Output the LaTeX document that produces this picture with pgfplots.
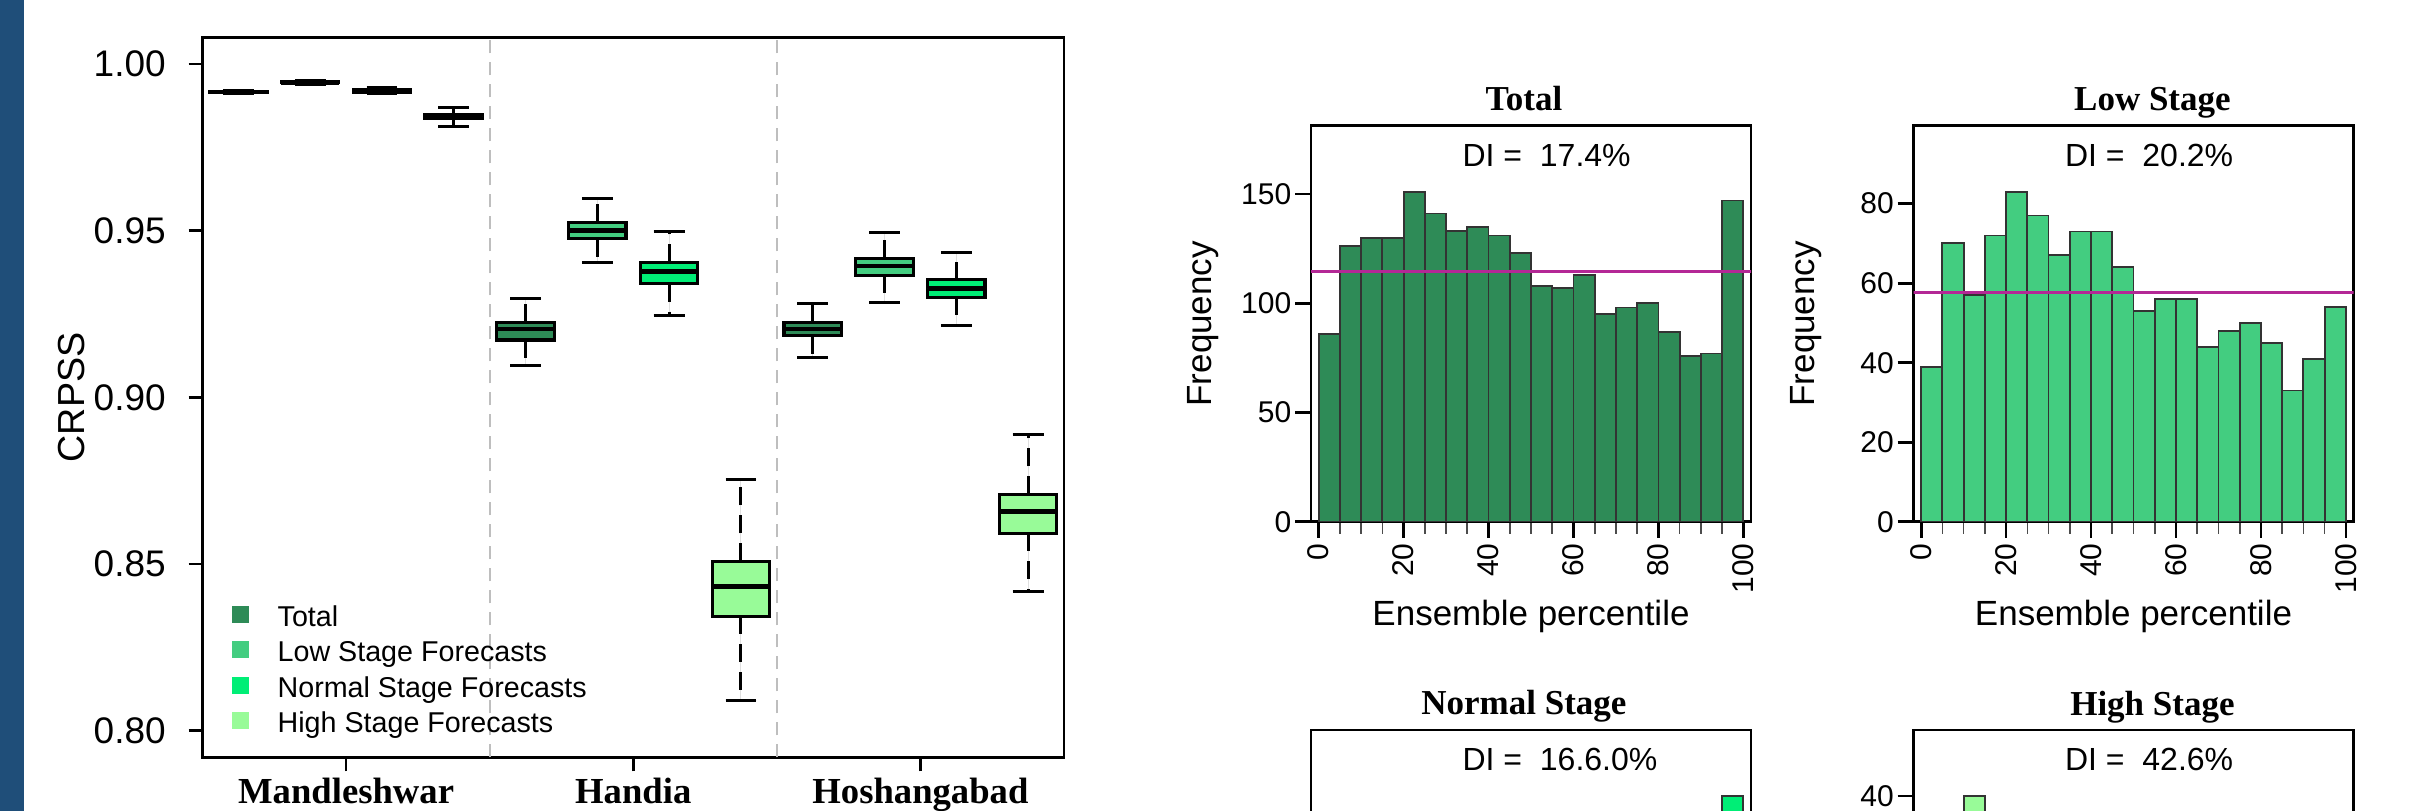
\documentclass[border=0pt]{standalone}
\usepackage{fontspec}
\setmainfont{Liberation Sans}
\newfontfamily\tnr{Liberation Serif}
\usepackage{pgfplots}
\pgfplotsset{compat=1.18}
\usepgfplotslibrary{statistics}

\definecolor{cTot}{HTML}{2E8B57}
\definecolor{cLow}{HTML}{43CD80}
\definecolor{cNor}{HTML}{00EE76}
\definecolor{cHig}{HTML}{98FB98}
\definecolor{cMean}{HTML}{B42896}
\definecolor{cSide}{HTML}{1F4E79}
\definecolor{cSep}{HTML}{BEBEBE}

% one R-style box: position, lower whisker, q1, median, q3, upper whisker, fill
\newcommand\rbox[7]{%
  \addplot[forget plot, rbox, fill=#7,
    boxplot prepared={draw position=#1, lower whisker=#2, lower quartile=#3,
      median=#4, upper quartile=#5, upper whisker=#6}] coordinates {};}

\newcommand\legsq[1]{%
  \addlegendimage{legend image code/.code={%
    \fill[#1, draw=none] (0pt,-1.05pt) rectangle (5.1pt,4.05pt);
    \path[draw=none, fill=none] (0pt,0pt) -- (13.8pt,0pt);}}}

\tikzset{dil/.style={anchor=base west, inner sep=0pt, font=\fontsize{9.6}{11}\selectfont}}

\pgfplotsset{
  rbox/.style={
    boxplot/draw direction=y,
    boxplot/box extend=0.8,
    boxplot/whisker extend=0.43,
    boxplot/every box/.style={line width=0.95pt, draw=black},
    boxplot/every median/.style={line width=1.4pt, draw=black},
    boxplot/draw/lower whisker/.code={%
      \draw[black, line width=0.9pt, dash pattern=on 5.4pt off 3pt]
        (boxplot whisker cs:\pgfplotsboxplotvalue{lower quartile},0.5) --
        (boxplot whisker cs:\pgfplotsboxplotvalue{lower whisker},0.5);
      \draw[black, line width=0.9pt]
        (boxplot whisker cs:\pgfplotsboxplotvalue{lower whisker},0) --
        (boxplot whisker cs:\pgfplotsboxplotvalue{lower whisker},1);},
    boxplot/draw/upper whisker/.code={%
      \draw[black, line width=0.9pt, dash pattern=on 5.4pt off 3pt]
        (boxplot whisker cs:\pgfplotsboxplotvalue{upper quartile},0.5) --
        (boxplot whisker cs:\pgfplotsboxplotvalue{upper whisker},0.5);
      \draw[black, line width=0.9pt]
        (boxplot whisker cs:\pgfplotsboxplotvalue{upper whisker},0) --
        (boxplot whisker cs:\pgfplotsboxplotvalue{upper whisker},1);},
  },
  hist/.style={
    scale only axis, width=132pt, height=118.83pt, anchor=south west,
    xmin=-1.8, xmax=101.8, ymin=0,
    axis line style={line width=0.8pt},
    tick pos=left, tick align=outside,
    major tick length=4.8pt, minor tick length=3.6pt,
    major tick style={line width=0.8pt, black},
    minor tick style={line width=0.5pt, black!70},
    xtick={0,20,...,100},
    minor xtick={5,10,15,25,30,35,45,50,55,65,70,75,85,90,95},
    xticklabel style={yshift=1.8pt, rotate=90, anchor=east, font=\fontsize{9}{10}\selectfont},
    yticklabel style={xshift=2.4pt, font=\fontsize{9}{10}\selectfont},
    /pgf/number format/assume math mode=true,
    xlabel={Ensemble percentile},
    ylabel={Frequency},
    xlabel style={font=\fontsize{10.5}{12}\selectfont,
      at={(axis description cs:0.5,-0.263)}, anchor=base},
    ylabel style={font=\fontsize{10.5}{12}\selectfont,
      at={(axis description cs:-0.245,0.5)}, anchor=center},
    title style={font=\tnr\bfseries\fontsize{10.5}{12}\selectfont,
      anchor=base, yshift=-1.5pt},
  },
}

\begin{document}
\begin{tikzpicture}
\useasboundingbox (0pt,0pt) rectangle (722.7pt,243.3pt);
\clip (0pt,0pt) rectangle (722.7pt,243.3pt);
\fill[cSide] (0pt,0pt) rectangle (7.2pt,243.3pt);

% ---- CRPSS box plots ----
\begin{axis}[
  at={(60.75pt,16.05pt)}, anchor=south west,
  scale only axis, width=258.45pt, height=216.06pt,
  xmin=0.5, xmax=12.5, ymin=0.792, ymax=1.008,
  axis line style={line width=0.8pt},
  tick pos=left, tick align=outside,
  major tick length=4.2pt,
  major tick style={line width=0.8pt, black},
  xtick={2.5,6.5,10.5},
  xticklabels={Mandleshwar,Handia,Hoshangabad},
  xticklabel style={yshift=1.7pt, font=\tnr\bfseries\fontsize{11}{12}\selectfont},
  ytick={0.80,0.85,0.90,0.95,1.00},
  yticklabels={0.80,0.85,0.90,0.95,1.00},
  yticklabel style={xshift=-3.3pt, font=\fontsize{11.1}{13}\selectfont},
  ylabel={CRPSS},
  ylabel style={font=\fontsize{11.3}{13}\selectfont,
    at={(axis description cs:-0.152,0.5)}, anchor=center},
  extra x ticks={4.5,8.5},
  extra x tick labels={},
  extra x tick style={grid=major, major tick length=0pt,
    major grid style={cSep, line width=0.6pt, dash pattern=on 4pt off 2.6pt}},
  legend style={draw=none, fill=none, inner sep=0pt,
    at={(0.0331,0.2115)}, anchor=north west,
    font=\fontsize{8.6}{10}\selectfont, row sep=2.5pt,
    nodes={inner sep=0pt, text height=6.2pt, text depth=1.9pt}},
  legend cell align=left,
]
\legsq{cTot}\addlegendentry{Total}
\legsq{cLow}\addlegendentry{Low Stage Forecasts}
\legsq{cNor}\addlegendentry{Normal Stage Forecasts}
\legsq{cHig}\addlegendentry{High Stage Forecasts}
% Mandleshwar
\rbox{1}{0.9910}{0.9915}{0.9916}{0.9917}{0.9921}{cTot}
\rbox{2}{0.9939}{0.9944}{0.9945}{0.9946}{0.9951}{cLow}
\rbox{3}{0.9910}{0.9916}{0.9920}{0.9924}{0.9930}{cNor}
\rbox{4}{0.9813}{0.9837}{0.9843}{0.9849}{0.9870}{cHig}
% Handia
\rbox{5}{0.9095}{0.9172}{0.9205}{0.9225}{0.9298}{cTot}
\rbox{6}{0.9405}{0.9476}{0.9501}{0.9525}{0.9597}{cLow}
\rbox{7}{0.9246}{0.9341}{0.9378}{0.9405}{0.9499}{cNor}
\rbox{8}{0.8091}{0.8343}{0.8432}{0.8508}{0.8755}{cHig}
% Hoshangabad
\rbox{9}{0.9120}{0.9185}{0.9205}{0.9225}{0.9282}{cTot}
\rbox{10}{0.9285}{0.9366}{0.9394}{0.9417}{0.9496}{cLow}
\rbox{11}{0.9217}{0.9300}{0.9327}{0.9353}{0.9436}{cNor}
\rbox{12}{0.8417}{0.8593}{0.8657}{0.8709}{0.8888}{cHig}
\end{axis}

% ---- Total ----
\begin{axis}[hist, at={(393.3pt,86.76pt)}, ymax=181.2, ytick={0,50,100,150},
  title={Total}, title style={at={(0.484,1)}}]
\addplot[ybar interval, fill=cTot, draw=black!80, line width=0.55pt] coordinates {
 (0,86) (5,126) (10,130) (15,130) (20,151) (25,141) (30,133) (35,135) (40,131) (45,123)
 (50,108) (55,107) (60,113) (65,95) (70,98) (75,100) (80,87) (85,76) (90,77) (95,147) (100,147)};
\addplot[cMean, line width=0.9pt] coordinates {(-5,114.7) (110,114.7)};
\node[dil] at (rel axis cs:0.343,0.898) {DI =\ \ 17.4\%};
\end{axis}

% ---- Low Stage ----
\begin{axis}[hist, at={(574.05pt,86.76pt)}, ymax=99.6, ytick={0,20,...,80},
  title={Low Stage}, title style={at={(0.543,1)}}]
\addplot[ybar interval, fill=cLow, draw=black!80, line width=0.55pt] coordinates {
 (0,39) (5,70) (10,57) (15,72) (20,83) (25,77) (30,67) (35,73) (40,73) (45,64)
 (50,53) (55,56) (60,56) (65,44) (70,48) (75,50) (80,45) (85,33) (90,41) (95,54) (100,54)};
\addplot[cMean, line width=0.9pt] coordinates {(-5,57.75) (110,57.75)};
\node[dil] at (rel axis cs:0.343,0.898) {DI =\ \ 20.2\%};
\end{axis}

% ---- Normal Stage (cut by the page edge) ----
\begin{axis}[hist, at={(393.3pt,-94.53pt)}, ymax=79.2, ytick={0,20,40,60},
  title={Normal Stage}, title style={at={(0.484,1)}}]
\addplot[ybar interval, fill=cNor, draw=black!80, line width=0.55pt] coordinates {
 (0,38) (5,48) (10,52) (15,50) (20,55) (25,48) (30,50) (35,47) (40,45) (45,44)
 (50,40) (55,42) (60,38) (65,40) (70,36) (75,35) (80,30) (85,28) (90,34) (95,66) (100,66)};
\addplot[cMean, line width=0.9pt] coordinates {(-5,43.3) (110,43.3)};
\node[dil] at (rel axis cs:0.343,0.898) {DI =\ \ 16.6.0\%};
\end{axis}

% ---- High Stage (cut by the page edge) ----
\begin{axis}[hist, at={(574.05pt,-94.53pt)}, ymax=48, ytick={0,10,...,40},
  title={High Stage}, title style={at={(0.543,1)}}]
\addplot[ybar interval, fill=cHig, draw=black!80, line width=0.55pt] coordinates {
 (0,30) (5,36) (10,40) (15,28) (20,22) (25,18) (30,15) (35,12) (40,11) (45,9)
 (50,8) (55,8) (60,7) (65,6) (70,6) (75,5) (80,5) (85,4) (90,6) (95,20) (100,20)};
\addplot[cMean, line width=0.9pt] coordinates {(-5,14.8) (110,14.8)};
\node[dil] at (rel axis cs:0.343,0.898) {DI =\ \ 42.6\%};
\end{axis}
\end{tikzpicture}
\end{document}
